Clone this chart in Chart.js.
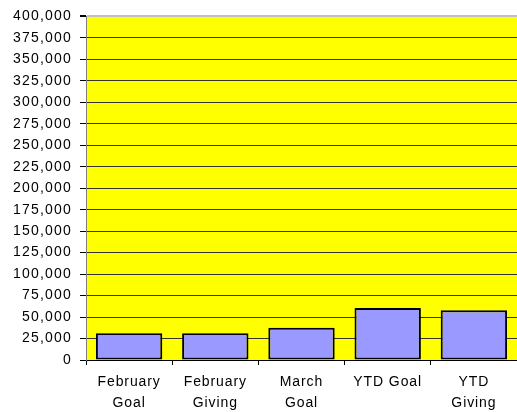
<!DOCTYPE html>
<html>
<head>
<meta charset="utf-8">
<script src="https://cdn.jsdelivr.net/npm/chart.js@4/dist/chart.umd.min.js"></script>
<style>
  html, body { margin: 0; padding: 0; background: #fff; }
  #wrap { width: 517px; height: 412px; }
</style>
</head>
<body>
<div id="wrap"><canvas id="grafica"></canvas></div>
<script>
// datos
const categorias = [['February', 'Goal'], ['February', 'Giving'], ['March', 'Goal'], 'YTD Goal', ['YTD', 'Giving']];
const valores = [31000, 31000, 37500, 60500, 58000];
const ticksY = [0, 25000, 50000, 75000, 100000, 125000, 150000, 175000, 200000, 225000, 250000, 275000, 300000, 325000, 350000, 375000, 400000];

// fondo amarillo del area
const fondoArea = {
    id: 'fondoArea',
    beforeDraw(chart) {
        const { ctx, chartArea: a } = chart;
        ctx.save();
        ctx.fillStyle = '#ffff00';
        ctx.fillRect(a.left, a.top, a.right - a.left, a.bottom - a.top);
        ctx.restore();
    }
};

// espaciado de letras por eje
const conEspaciado = (esp) => (s) => {
    if (s._espaciado) return;
    s._espaciado = true;
    const orig = s.drawLabels;
    s.drawLabels = function (area) {
        this.ctx.save();
        this.ctx.letterSpacing = esp;
        orig.call(this, area);
        this.ctx.restore();
    };
};

new Chart(document.getElementById('grafica'), {
    type: 'bar',
    data: {
        labels: categorias,
        datasets: [{
            data: valores,
            backgroundColor: '#9999ff',
            borderColor: '#000',
            borderWidth: 2,
            borderSkipped: false,
            barPercentage: 0.77,
            categoryPercentage: 1
        }]
    },
    options: {
        responsive: true,
        maintainAspectRatio: false,
        animation: false,
        layout: { padding: { top: 16, right: 0, left: 0, bottom: 0 } },
        plugins: { legend: { display: false }, tooltip: { enabled: false } },
        scales: {
            x: {
                afterFit: s => { s.height = 52; conEspaciado('0.9px')(s); },
                grid: { drawOnChartArea: false, tickLength: 5, color: '#000' },
                border: { color: '#000', width: 1 },
                ticks: {
                    color: '#000', padding: 7, maxRotation: 0, autoSkip: false,
                    font: { family: 'Liberation Sans, Arial', size: 14, lineHeight: 1.5 }
                }
            },
            y: {
                min: 0, max: 400000,
                afterFit: s => { s.width = 86; conEspaciado('1.2px')(s); },
                afterBuildTicks: s => { s.ticks = ticksY.map(v => ({ value: v })); },
                grid: {
                    color: c => c.tick && c.tick.value === 400000 ? '#c0c0c0' : '#333',
                    lineWidth: c => c.tick && c.tick.value === 400000 ? 2 : 1,
                    tickLength: 6, tickColor: '#000'
                },
                border: { color: '#808080', width: 1 },
                ticks: {
                    color: '#000', padding: 8,
                    font: { family: 'Liberation Sans, Arial', size: 14 },
                    callback: v => v.toLocaleString('en-US')
                }
            }
        }
    },
    plugins: [fondoArea]
});
</script>
</body>
</html>
